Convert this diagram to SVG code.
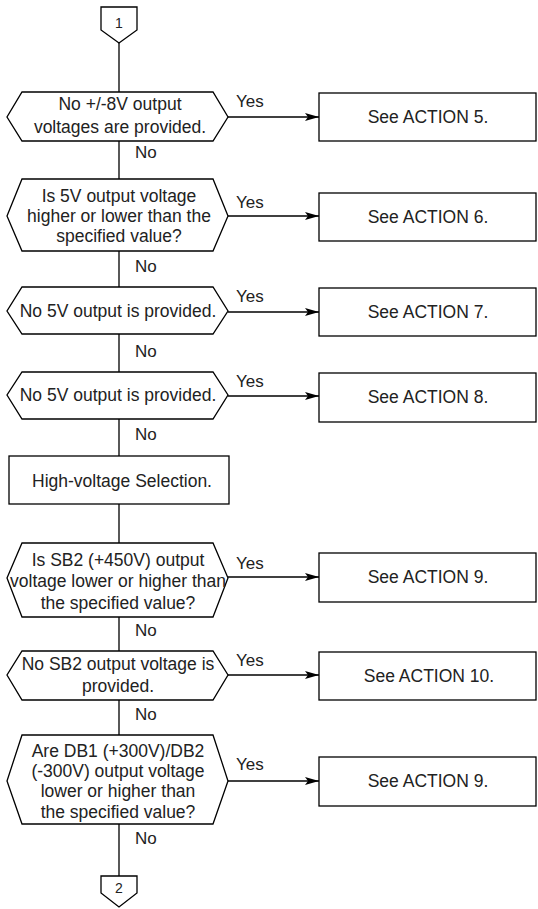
<svg xmlns="http://www.w3.org/2000/svg" width="538" height="909" viewBox="0 0 538 909">
<defs>
<marker id="arr" markerUnits="userSpaceOnUse" markerWidth="16" markerHeight="10" refX="14" refY="5" orient="auto">
<path d="M0,1 L14,5 L0,9 L3,5 z" fill="#000"/>
</marker>
<style>
.sh{fill:#fff;stroke:#000;stroke-width:1.3}
.ln{fill:none;stroke:#000;stroke-width:1.3}
.t{font-family:"Liberation Sans",Arial,sans-serif;font-size:17.5px;fill:#222;text-anchor:middle}
.l{font-family:"Liberation Sans",Arial,sans-serif;font-size:17px;fill:#222}
.c{font-family:"Liberation Sans",Arial,sans-serif;font-size:14px;fill:#222;text-anchor:middle}
</style>
</defs>
<rect width="538" height="909" fill="#fff"/>
<g id="connectors">
<path class="ln" d="M119,43 V92 M119,141 V179 M119,251 V287 M119,334 V372 M119,419 V456 M119,504 V543 M119,617 V651 M119,700 V735 M119,824 V876"/>
<path class="ln" marker-end="url(#arr)" d="M228,117 H319"/>
<path class="ln" marker-end="url(#arr)" d="M228,216 H319"/>
<path class="ln" marker-end="url(#arr)" d="M228,312 H319"/>
<path class="ln" marker-end="url(#arr)" d="M228,396 H319"/>
<path class="ln" marker-end="url(#arr)" d="M228,577 H319"/>
<path class="ln" marker-end="url(#arr)" d="M228,675 H319"/>
<path class="ln" marker-end="url(#arr)" d="M228,781 H319"/>
<g class="l">
<text x="236" y="107">Yes</text>
<text x="236" y="208">Yes</text>
<text x="236" y="302">Yes</text>
<text x="236" y="387">Yes</text>
<text x="236" y="569">Yes</text>
<text x="236" y="666">Yes</text>
<text x="236" y="770">Yes</text>
<text x="135" y="158">No</text>
<text x="135" y="272">No</text>
<text x="135" y="357">No</text>
<text x="135" y="440">No</text>
<text x="135" y="636">No</text>
<text x="135" y="720">No</text>
<text x="135" y="844">No</text>
</g>
</g>
<g id="start">
<path class="sh" d="M101,7 H137 V30 L119,43 L101,30 Z"/>
<text class="c" x="119" y="28">1</text>
</g>
<g id="d1">
<path class="sh" d="M22,92 H213 L228,117 L213,141 H22 L7,117 Z"/>
<text class="t" x="120" y="110">No +/-8V output</text>
<text class="t" x="120" y="133">voltages are provided.</text>
</g>
<g id="a5">
<rect class="sh" x="319" y="93" width="217" height="48"/>
<text class="t" x="428" y="123">See ACTION 5.</text>
</g>
<g id="d2">
<path class="sh" d="M22,179 H213 L228,216 L213,251 H22 L7,216 Z"/>
<text class="t" x="119" y="202">Is 5V output voltage</text>
<text class="t" x="119" y="222">higher or lower than the</text>
<text class="t" x="119" y="242">specified value?</text>
</g>
<g id="a6">
<rect class="sh" x="319" y="193" width="217" height="48"/>
<text class="t" x="428" y="223">See ACTION 6.</text>
</g>
<g id="d3">
<path class="sh" d="M22,287 H213 L228,311 L213,334 H22 L7,311 Z"/>
<text class="t" x="118" y="317">No 5V output is provided.</text>
</g>
<g id="a7">
<rect class="sh" x="319" y="288" width="217" height="48"/>
<text class="t" x="428" y="318">See ACTION 7.</text>
</g>
<g id="d4">
<path class="sh" d="M22,372 H213 L228,395 L213,419 H22 L7,395 Z"/>
<text class="t" x="118" y="401">No 5V output is provided.</text>
</g>
<g id="a8">
<rect class="sh" x="319" y="373" width="217" height="49"/>
<text class="t" x="428" y="403">See ACTION 8.</text>
</g>
<g id="hv">
<rect class="sh" x="9" y="456" width="220" height="48"/>
<text class="t" x="122" y="487">High-voltage Selection.</text>
</g>
<g id="d5">
<path class="sh" d="M22,543 H213 L228,578 L213,617 H22 L7,578 Z"/>
<text class="t" x="118" y="566">Is SB2 (+450V) output</text>
<text class="t" x="118" y="587">voltage lower or higher than</text>
<text class="t" x="118" y="609">the specified value?</text>
</g>
<g id="a9a">
<rect class="sh" x="319" y="553" width="217" height="49"/>
<text class="t" x="428" y="583">See ACTION 9.</text>
</g>
<g id="d6">
<path class="sh" d="M22,651 H213 L228,675 L213,700 H22 L7,675 Z"/>
<text class="t" x="118" y="670">No SB2 output voltage is</text>
<text class="t" x="118" y="692">provided.</text>
</g>
<g id="a10">
<rect class="sh" x="319" y="652" width="217" height="48"/>
<text class="t" x="429" y="682">See ACTION 10.</text>
</g>
<g id="d7">
<path class="sh" d="M22,735 H213 L228,781 L213,824 H22 L7,781 Z"/>
<text class="t" x="118" y="757">Are DB1 (+300V)/DB2</text>
<text class="t" x="118" y="777">(-300V) output voltage</text>
<text class="t" x="118" y="797">lower or higher than</text>
<text class="t" x="118" y="818">the specified value?</text>
</g>
<g id="a9b">
<rect class="sh" x="319" y="757" width="217" height="49"/>
<text class="t" x="428" y="787">See ACTION 9.</text>
</g>
<g id="end">
<path class="sh" d="M101,876 H137 V893 L119,907 L101,893 Z"/>
<text class="c" x="119" y="893">2</text>
</g>
</svg>
